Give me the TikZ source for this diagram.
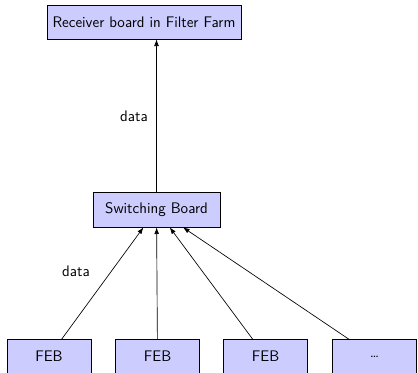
\documentclass[tikz,border=0pt]{standalone}
\usetikzlibrary{arrows.meta}
\begin{document}
\begin{tikzpicture}[x=0.75pt,y=-0.75pt,
  every node/.style={font=\sffamily\fontsize{11.5}{13}\selectfont},
  board/.style={draw=black,fill=blue!20,line width=0.5pt,inner sep=0pt,
    minimum height=34*0.75pt},
  flow/.style={-{Latex[length=5pt,width=3.6pt]},line width=0.5pt},
  lbl/.style={inner sep=1pt}]
\useasboundingbox (0,0) rectangle (418,372);
% boards
\node[board,minimum width=194*0.75pt] (rec) at (144,22) {Receiver board in Filter Farm};
\node[board,minimum width=127*0.75pt,minimum height=35*0.75pt] (sw) at (156.5,209.5) {Switching Board};
\node[board,minimum width=84*0.75pt] (feb1) at (49,356.5) {FEB};
\node[board,minimum width=84*0.75pt] (feb2) at (157.5,356.5) {FEB};
\node[board,minimum width=84*0.75pt] (feb3) at (265.5,356.5) {FEB};
\node[board,minimum width=84*0.75pt] (feb4) at (374.5,356.5) {\dots};
% data paths
\draw[flow] (sw) -- (sw |- rec.south);
\draw[flow] (feb1) -- (sw);
\draw[flow] (feb2) -- (sw);
\draw[flow] (feb3) -- (sw);
\draw[flow] (feb4) -- (sw);
% labels
\node[lbl] (d1) at (134,116) {data};
\node[lbl] (d2) at (76,271) {data};
\end{tikzpicture}
\end{document}
